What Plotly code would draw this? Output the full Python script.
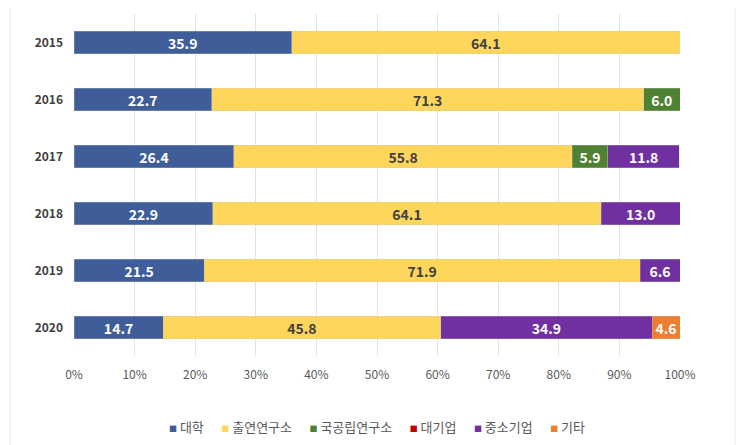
import plotly.graph_objects as go

years = ["2015", "2016", "2017", "2018", "2019", "2020"]
series_names = ["대학", "출연연구소", "국공립연구소", "대기업", "중소기업", "기타"]
univ = [35.9, 22.7, 26.4, 22.9, 21.5, 14.7]
gov_inst = [64.1, 71.3, 55.8, 64.1, 71.9, 45.8]
public_inst = [None, 6.0, 5.9, None, None, None]
large_corp = [None, None, None, None, None, None]
sme = [None, None, 11.8, 13.0, 6.6, 34.9]
other = [None, None, None, None, None, 4.6]
x_ticks = [0, 10, 20, 30, 40, 50, 60, 70, 80, 90, 100]
x_tick_labels = ["0%", "10%", "20%", "30%", "40%", "50%", "60%", "70%", "80%", "90%", "100%"]

colors = ["#3F5E99", "#FFD65C", "#4E8232", "#C00000", "#7030A0", "#ED7D31"]
text_colors = ["white", "#404040", "white", "white", "white", "white"]
values = [univ, gov_inst, public_inst, large_corp, sme, other]

FONT = "Noto Sans CJK KR"

fig = go.Figure()
for name, vals, c, tc in zip(series_names, values, colors, text_colors):
    fig.add_trace(go.Bar(
        y=years, x=vals, name=name, orientation="h",
        marker=dict(color=c, line=dict(color="rgba(200,200,200,0.6)", width=0.5)),
        texttemplate="%{x:.1f}", textposition="inside", insidetextanchor="middle",
        textangle=0, constraintext="none",
        textfont=dict(family=FONT, size=14, color=tc, weight="bold"),
        width=0.4, showlegend=False,
    ))

# Compact legend (Excel style) built from the series names/colours
legend_html = "&nbsp;&nbsp;&nbsp;&nbsp;&nbsp;&nbsp;".join(
    f'<span style="color:{c};font-size:8px">■</span>&nbsp;{n}'
    for n, c in zip(series_names, colors)
)

fig.update_layout(
    barmode="stack",
    width=738, height=437,
    margin=dict(l=66, r=66, t=6, b=89),
    paper_bgcolor="white", plot_bgcolor="white",
    font=dict(family=FONT, color="#595959", size=12),
    xaxis=dict(range=[0, 100], tickvals=x_ticks, ticktext=x_tick_labels,
               showgrid=True, gridcolor="#E3E3E3", gridwidth=1, zeroline=False,
               showline=False, ticks="", tickfont=dict(size=12, color="#595959"),
               ticklabelstandoff=10, automargin=False),
    yaxis=dict(autorange="reversed", showgrid=False, zeroline=False, ticks="",
               tickfont=dict(size=12, color="#404040", weight="bold"),
               ticklabelstandoff=10, automargin=False),
    showlegend=False,
    annotations=[dict(text=legend_html, xref="paper", yref="paper", x=0.5, y=-0.207,
                      xanchor="center", yanchor="middle", showarrow=False,
                      font=dict(size=13, color="#595959", family=FONT))],
    bargap=0.6,
    shapes=[
        dict(type="line", xref="paper", yref="paper", x0=-0.1056, x1=-0.1056,
             y0=-0.27, y1=1.02, line=dict(color="#EBEBEB", width=1)),
        dict(type="line", xref="paper", yref="paper", x0=1.0908, x1=1.0908,
             y0=-0.27, y1=1.02, line=dict(color="#EBEBEB", width=1)),
    ],
)

fig.write_html("out.html")
